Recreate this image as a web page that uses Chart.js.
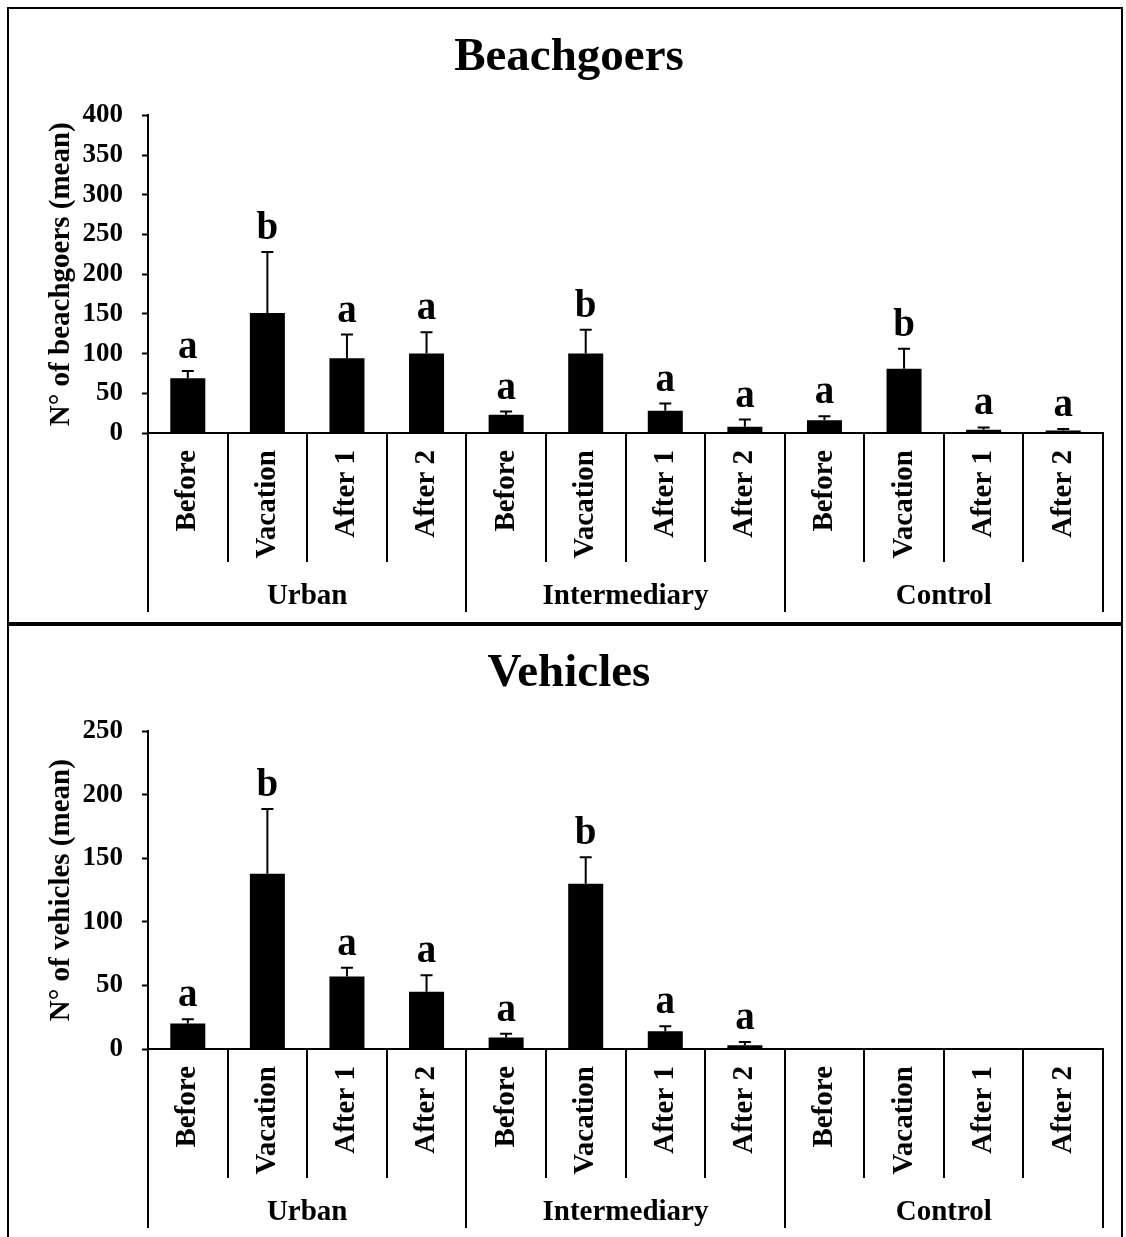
<!DOCTYPE html>
<html>
<head>
<meta charset="utf-8">
<title>Beachgoers and vehicles by period and beach type</title>
<script src="https://cdn.jsdelivr.net/npm/chart.js@4.4.1/dist/chart.umd.min.js"></script>
<style>
  html, body { margin: 0; padding: 0; background: #fff; }
  body { width: 1126px; height: 1237px; position: relative; overflow: hidden; }
  canvas { position: absolute; left: 0; }
  .frame { position: absolute; border: 2px solid #000; box-sizing: border-box; }
</style>
</head>
<body>
<div class="frame" style="left:7px; top:7px; width:1116px; height:617px;"></div>
<div class="frame" style="left:7px; top:624px; width:1116px; height:640px;"></div>
<canvas id="beach" width="1126" height="622" style="top:0px;"></canvas>
<canvas id="vehicles" width="1126" height="622" style="top:616px;"></canvas>
<script>
// Sampling periods, repeated for each beach type
const periods = ['Before', 'Vacation', 'After 1', 'After 2'];
const beachTypes = ['Urban', 'Intermediary', 'Control'];
const categories = beachTypes.flatMap(() => periods);

// Beachgoers: mean and error (upper bar) per period, grouped Urban / Intermediary / Control
const beachgoersMean = [69, 151, 94, 100,  23, 100, 28, 8,  16, 81, 4, 3];
const beachgoersErr  = [9, 77, 30, 27,  4, 30, 9, 9,  5, 25, 3, 2];
const beachgoersLetters = ['a', 'b', 'a', 'a',  'a', 'b', 'a', 'a',  'a', 'b', 'a', 'a'];
const beachgoersTicks = { max: 400, step: 50 };

// Vehicles: no vehicles recorded at the control beaches
const vehiclesMean = [20, 138, 57, 45,  9, 130, 14, 3,  null, null, null, null];
const vehiclesErr  = [3.5, 51, 7, 13,  3, 21, 4, 2.5,  null, null, null, null];
const vehiclesLetters = ['a', 'b', 'a', 'a',  'a', 'b', 'a', 'a',  '', '', '', ''];
const vehiclesTicks = { max: 250, step: 50 };

const SERIF = "'Liberation Serif', 'Times New Roman', serif";
Chart.defaults.color = '#000';
Chart.defaults.font.family = SERIF;

// Error bars with significance letters above each bar
const errorBarPlugin = {
  id: 'errorBars',
  afterDatasetsDraw(chart, args, opts) {
    const ctx = chart.ctx;
    const meta = chart.getDatasetMeta(0);
    const y = chart.scales.y;
    const values = chart.data.datasets[0].data;
    ctx.save();
    ctx.strokeStyle = '#000';
    ctx.fillStyle = '#000';
    ctx.lineWidth = 2;
    meta.data.forEach((bar, i) => {
      const v = values[i];
      if (v === null || v === undefined) return;
      const e = opts.errors[i] || 0;
      const yTop = y.getPixelForValue(v + e);
      ctx.beginPath();
      ctx.moveTo(bar.x, bar.y);
      ctx.lineTo(bar.x, yTop);
      ctx.moveTo(bar.x - 6, yTop);
      ctx.lineTo(bar.x + 6, yTop);
      ctx.stroke();
      const letter = opts.letters[i];
      if (letter) {
        ctx.font = 'bold 39px ' + SERIF;
        ctx.textAlign = 'center';
        ctx.textBaseline = 'alphabetic';
        ctx.fillText(letter, bar.x, yTop - 13);
      }
    });
    ctx.restore();
  }
};

// Two-level category axis: rotated period labels, beach-type labels and separators
const groupAxisPlugin = {
  id: 'groupAxis',
  afterDraw(chart, args, opts) {
    const ctx = chart.ctx;
    const x = chart.scales.x;
    const base = chart.chartArea.bottom;
    const n = chart.data.labels.length;
    const half = (x.getPixelForValue(1) - x.getPixelForValue(0)) / 2;
    const perGroup = opts.groupSize;
    ctx.save();
    ctx.strokeStyle = '#000';
    ctx.fillStyle = '#000';
    ctx.lineWidth = 2;
    for (let i = 0; i <= n; i++) {
      const xb = i < n ? x.getPixelForValue(i) - half : x.getPixelForValue(n - 1) + half;
      const len = (i % perGroup === 0) ? opts.groupTick : opts.innerTick;
      ctx.beginPath();
      ctx.moveTo(Math.round(xb), base);
      ctx.lineTo(Math.round(xb), base + len);
      ctx.stroke();
    }
    ctx.font = 'bold 29px ' + SERIF;
    for (let i = 0; i < n; i++) {
      ctx.save();
      ctx.translate(x.getPixelForValue(i), base + opts.labelGap);
      ctx.rotate(-Math.PI / 2);
      ctx.textAlign = 'right';
      ctx.textBaseline = 'middle';
      ctx.fillText(chart.data.labels[i], 0, 0);
      ctx.restore();
    }
    ctx.textAlign = 'center';
    ctx.textBaseline = 'alphabetic';
    opts.groups.forEach((g, gi) => {
      const cx = (x.getPixelForValue(gi * perGroup) + x.getPixelForValue(gi * perGroup + perGroup - 1)) / 2;
      ctx.fillText(g, cx, base + opts.groupBaseline);
    });
    ctx.restore();
  }
};

function buildChart(id, title, yTitle, means, errs, letters, ticks) {
  return new Chart(document.getElementById(id), {
    type: 'bar',
    data: {
      labels: categories,
      datasets: [{
        data: means,
        backgroundColor: '#000',
        borderWidth: 0,
        categoryPercentage: 1,
        barPercentage: 0.44
      }]
    },
    plugins: [errorBarPlugin, groupAxisPlugin],
    options: {
      responsive: false,
      animation: false,
      devicePixelRatio: 1,
      layout: { padding: { left: 35, right: 23, top: 0, bottom: 0 } },
      plugins: {
        legend: { display: false },
        tooltip: { enabled: false },
        title: {
          display: true,
          text: title,
          color: '#000',
          font: { family: SERIF, size: 47, weight: 'bold' },
          padding: { top: 30, bottom: 29 }
        },
        errorBars: { errors: errs, letters: letters },
        groupAxis: {
          groups: beachTypes, groupSize: periods.length,
          innerTick: 129, groupTick: 179, labelGap: 17, groupBaseline: 171
        }
      },
      scales: {
        x: {
          offset: true,
          grid: { display: false, drawTicks: false },
          border: { display: true, color: '#000', width: 2 },
          ticks: { display: false },
          afterFit(scale) { scale.height = 189; }
        },
        y: {
          min: 0,
          max: ticks.max,
          ticks: {
            stepSize: ticks.step,
            padding: 19,
            color: '#000',
            font: { family: SERIF, size: 27, weight: 'bold' }
          },
          grid: {
            drawOnChartArea: false,
            drawTicks: true,
            tickLength: 6,
            tickWidth: 2,
            tickColor: '#000'
          },
          border: { display: true, color: '#000', width: 2 },
          title: {
            display: true,
            text: yTitle,
            color: '#000',
            font: { family: SERIF, size: 29, weight: 'bold' },
            padding: { top: 9, bottom: 0 }
          },
          afterFit(scale) { scale.width = 113; }
        }
      }
    }
  });
}

buildChart('beach', 'Beachgoers', 'N° of beachgoers (mean)',
  beachgoersMean, beachgoersErr, beachgoersLetters, beachgoersTicks);
buildChart('vehicles', 'Vehicles', 'N° of vehicles (mean)',
  vehiclesMean, vehiclesErr, vehiclesLetters, vehiclesTicks);
</script>
</body>
</html>
